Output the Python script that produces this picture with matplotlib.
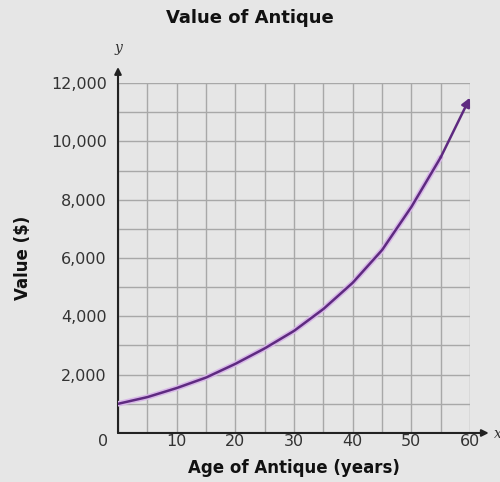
import matplotlib
matplotlib.use("Agg")
import matplotlib.pyplot as plt

age = [0, 5, 10, 15, 20, 25, 30, 35, 40, 45, 50, 55, 60]
value = [1000, 1230, 1540, 1900, 2370, 2900, 3500, 4250, 5150, 6270, 7750, 9450, 11500]
xticks = [10, 20, 30, 40, 50, 60]
yticks = [2000, 4000, 6000, 8000, 10000, 12000]

bg = "#e6e6e6"
fig = plt.figure(figsize=(5, 4.82), dpi=100, facecolor=bg)
ax = fig.add_axes([0.236, 0.1017, 0.704, 0.726], facecolor=bg)
ax.set_xlim(0, 60)
ax.set_ylim(0, 12000)

# grid
ax.set_xticks(range(0, 61, 5), minor=True)
ax.set_yticks(range(0, 12001, 1000), minor=True)
ax.set_xticks(xticks)
ax.set_yticks(yticks)
ax.grid(which="both", color="#a8a8a8", linewidth=1.0)
ax.set_xticklabels([str(t) for t in xticks])
ax.set_yticklabels([f"{t:,}" for t in yticks])
ax.tick_params(which="both", length=0, labelsize=11.5, labelcolor="#333333")
ax.tick_params(axis="x", pad=1)
ax.tick_params(axis="y", pad=8)
for s in ax.spines.values():
    s.set_visible(False)

# axes with arrows
ax.annotate("", xy=(0, 12550), xytext=(0, 0), annotation_clip=False,
            arrowprops=dict(arrowstyle="-|>", color="#222222", lw=1.5, mutation_scale=10, shrinkA=0, shrinkB=0))
ax.annotate("", xy=(63.2, 0), xytext=(0, 0), annotation_clip=False,
            arrowprops=dict(arrowstyle="-|>", color="#222222", lw=1.5, mutation_scale=10, shrinkA=0, shrinkB=0))
ax.text(0, 12950, "y", ha="center", va="bottom", fontsize=10, style="italic", family="DejaVu Serif", color="#333333")
ax.text(64.0, -50, "x", ha="left", va="center", fontsize=10, style="italic", family="DejaVu Serif", color="#333333", clip_on=False)
ax.annotate("0", xy=(0, 0), xytext=(-11, -1), textcoords="offset points", ha="center", va="top",
            fontsize=11.5, color="#333333", annotation_clip=False)

# curve
ax.plot(age[:-1], value[:-1], color="#d8b8e8", lw=4, solid_capstyle="round", zorder=3)
ax.plot(age[:-1], value[:-1], color="#5e2a80", lw=1.8, zorder=4)
ax.annotate("", xy=(age[-1], value[-1]), xytext=(age[-2], value[-2]),
            arrowprops=dict(arrowstyle="-|>", color="#5e2a80", lw=1.8, mutation_scale=13, shrinkA=0, shrinkB=0),
            zorder=5)

fig.text(0.5, 0.962, "Value of Antique", ha="center", va="center", fontsize=13, fontweight="bold", color="#111111")
ax.set_xlabel("Age of Antique (years)", fontsize=12, fontweight="bold", color="#111111", labelpad=7)
ax.set_ylabel("Value ($)", fontsize=12, fontweight="bold", color="#111111", labelpad=14)

fig.savefig("out.png", dpi=100, facecolor=bg)
